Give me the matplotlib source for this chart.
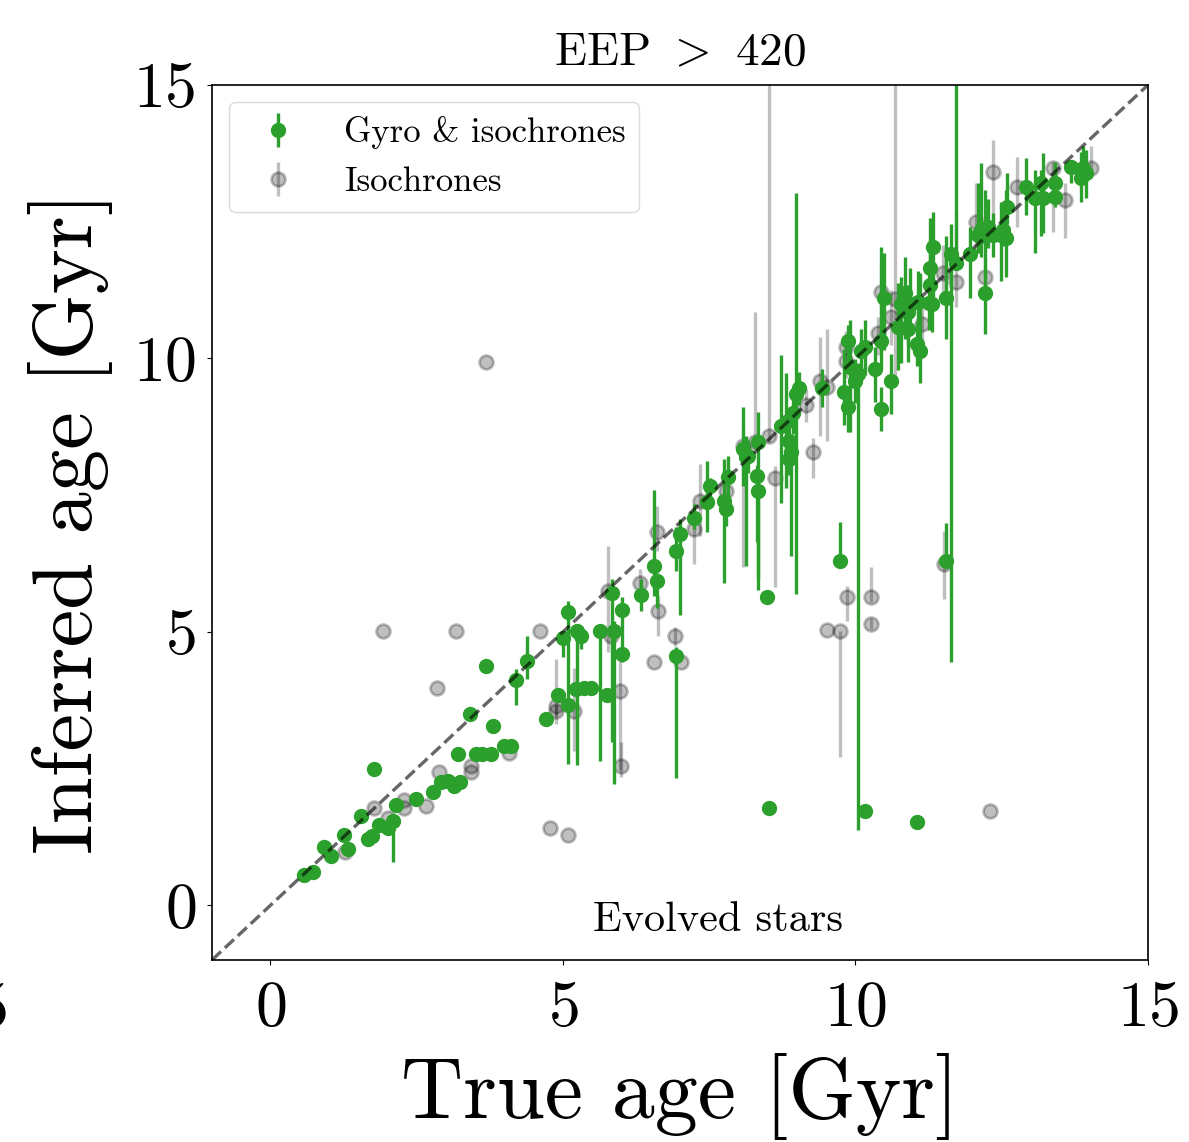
import numpy as np
import matplotlib
matplotlib.use("Agg")
import matplotlib.pyplot as plt

plt.rcParams["font.family"] = "serif"
plt.rcParams["font.serif"] = ["cmr10"]
plt.rcParams["mathtext.fontset"] = "cm"
plt.rcParams["axes.formatter.use_mathtext"] = True

# ---- Gyro & isochrones (green) ----
gyro_true = [0.58, 0.72, 0.92, 1.04, 1.26, 1.33, 1.55, 1.67, 1.74, 1.77, 1.86, 2.01, 2.10, 2.15, 2.49,
             2.78, 2.92, 3.04, 3.14, 3.24, 3.21, 3.41, 3.52, 3.62, 3.77, 3.81, 3.69, 3.99, 4.11, 4.20,
             4.39, 4.71, 4.91, 5.09, 5.00, 5.09, 5.24, 5.31, 5.22, 5.36, 5.48, 5.63, 5.75, 5.84, 5.87,
             6.01, 6.01, 6.33, 6.55, 6.60, 6.93, 7.00, 6.93, 7.24, 7.47, 7.51, 7.75, 7.78, 7.82, 8.07,
             8.12, 8.17, 8.33, 8.31, 8.33, 8.48, 8.52, 8.72, 8.82, 8.86, 8.89, 8.86, 8.94, 8.98, 9.04,
             9.42, 9.73, 9.80, 9.88, 9.88, 9.90, 10.00, 10.05, 10.10, 10.17, 10.34, 10.43, 10.61, 10.17, 11.06,
             11.54, 10.48, 10.44, 10.85, 10.77, 10.94, 11.07, 11.25, 10.90, 10.73, 10.89, 11.06, 11.11, 11.33, 11.28,
             11.28, 11.30, 11.54, 11.64, 11.72, 11.96, 12.22, 12.15, 12.27, 12.10, 12.22, 12.35, 12.49, 12.58, 12.53,
             12.59, 12.92, 13.17, 13.41, 13.07, 13.21, 13.41, 13.69, 13.89, 13.94, 13.86]
gyro_inf = [0.55, 0.60, 1.06, 0.91, 1.28, 1.02, 1.64, 1.22, 1.26, 2.50, 1.46, 1.42, 1.55, 1.84, 1.95,
            2.08, 2.26, 2.28, 2.19, 2.26, 2.77, 3.49, 2.77, 2.76, 2.76, 3.28, 4.38, 2.92, 2.92, 4.12,
            4.47, 3.41, 3.85, 5.36, 4.89, 3.67, 5.02, 4.93, 3.96, 3.98, 3.98, 5.02, 3.85, 5.71, 5.02,
            5.40, 4.60, 5.67, 6.20, 5.93, 6.48, 6.79, 4.56, 7.08, 7.37, 7.66, 7.39, 7.24, 7.83, 8.34,
            8.19, 8.21, 8.47, 7.85, 7.57, 5.64, 1.77, 8.76, 8.83, 8.49, 8.28, 8.16, 9.01, 9.34, 9.45,
            9.45, 6.30, 9.38, 9.12, 10.31, 9.84, 9.58, 9.71, 10.13, 10.20, 9.80, 9.07, 9.58, 1.73, 1.53,
            6.30, 11.11, 10.31, 11.20, 10.99, 10.99, 11.04, 11.02, 10.84, 10.58, 10.53, 10.26, 10.13, 12.04, 11.66,
            11.35, 10.99, 11.11, 11.90, 11.75, 11.90, 11.20, 12.35, 12.41, 12.26, 12.23, 12.26, 12.26, 12.21, 12.35,
            12.76, 13.14, 13.21, 13.21, 12.94, 12.94, 12.96, 13.50, 13.49, 13.39, 13.30]
gyro_lo = [0.0, 0.0, 0.0, 0.0, 0.0, 0.0, 0.0, 0.0, 0.0, 0.0, 0.0, 0.0, 0.75, 0.0, 0.0,
           0.0, 0.0, 0.0, 0.0, 0.0, 0.10, 0.0, 0.0, 0.0, 0.0, 0.0, 0.0, 0.0, 0.0, 0.46,
           0.33, 0.0, 0.0, 2.78, 0.35, 0.0, 2.45, 0.25, 0.0, 0.0, 0.0, 2.39, 0.0, 2.72, 2.80,
           0.95, 0.0, 0.29, 0.54, 0.50, 0.36, 1.48, 2.23, 0.20, 0.55, 0.20, 1.50, 0.30, 0.50, 0.68,
           1.99, 0.30, 2.70, 1.20, 1.60, 0.0, 0.0, 1.40, 1.20, 0.40, 1.90, 0.30, 0.40, 3.65, 0.30,
           0.33, 0.10, 0.60, 0.47, 0.50, 1.19, 0.40, 8.34, 0.40, 0.50, 0.60, 0.40, 0.60, 0.0, 0.0,
           0.10, 0.95, 0.50, 0.85, 1.08, 0.52, 0.75, 0.50, 0.60, 0.80, 0.60, 0.40, 0.58, 1.11, 0.40,
           0.60, 0.50, 0.76, 7.45, 0.10, 0.79, 0.76, 0.50, 0.40, 0.33, 0.70, 0.40, 0.85, 0.73, 0.30,
           0.30, 0.51, 0.98, 0.30, 1.01, 0.64, 0.20, 0.29, 0.30, 0.45, 0.44]
gyro_hi = [0.0, 0.0, 0.0, 0.0, 0.0, 0.0, 0.0, 0.0, 0.0, 0.0, 0.0, 0.0, 0.10, 0.0, 0.0,
           0.0, 0.0, 0.0, 0.0, 0.0, 0.10, 0.13, 0.0, 0.0, 0.0, 0.0, 0.0, 0.0, 0.0, 0.20,
           0.46, 0.0, 0.0, 0.20, 0.13, 0.0, 0.07, 0.10, 0.0, 0.0, 0.0, 0.0, 0.0, 0.26, 0.18,
           0.24, 0.0, 0.29, 1.40, 0.15, 0.44, 0.27, 0.16, 0.25, 0.75, 0.15, 0.77, 0.20, 0.38, 0.78,
           0.40, 0.30, 0.55, 0.20, 0.20, 0.0, 0.0, 1.30, 0.90, 0.30, 0.20, 0.20, 0.30, 3.69, 0.30,
           0.35, 0.70, 0.80, 0.31, 0.30, 0.87, 0.40, 0.20, 0.40, 0.50, 0.40, 0.40, 0.50, 0.0, 0.0,
           0.69, 0.82, 1.73, 0.66, 0.49, 0.67, 0.55, 0.60, 0.50, 0.80, 0.50, 0.40, 1.44, 0.64, 0.50,
           1.22, 0.50, 1.12, 0.55, 4.00, 0.51, 0.37, 1.23, 0.50, 0.95, 0.85, 0.40, 0.60, 0.87, 0.40,
           0.63, 0.53, 0.24, 0.30, 0.51, 0.82, 0.63, 0.13, 0.40, 0.42, 0.48]

# ---- Isochrones only (grey) ----
iso_true = [3.69, 1.93, 3.17, 2.85, 1.77, 1.28, 2.29, 2.29, 2.66, 2.88, 3.43, 3.43, 2.01, 4.08, 4.61,
            4.78, 5.09, 4.88, 4.88, 5.19, 5.77, 5.82, 5.97, 5.99, 6.31, 6.60, 6.62, 6.55, 6.91, 7.01,
            7.24, 7.35, 7.78, 8.07, 8.52, 8.62, 8.29, 9.16, 9.28, 9.40, 9.51, 9.85, 10.27, 10.27, 9.52,
            9.73, 11.52, 12.30, 9.83, 9.83, 10.44, 10.61, 10.68, 11.13, 11.50, 11.71, 12.06, 12.22, 12.35, 12.76,
            13.38, 13.58, 14.03, 10.38]
iso_inf = [9.93, 5.02, 5.02, 3.98, 1.77, 0.98, 1.92, 1.77, 1.81, 2.43, 2.55, 2.44, 1.59, 2.79, 5.02,
           1.41, 1.28, 3.65, 3.56, 3.56, 5.75, 4.93, 3.92, 2.55, 5.89, 6.82, 5.38, 4.45, 4.93, 4.45,
           6.88, 7.39, 7.57, 8.39, 8.58, 7.81, 8.47, 9.14, 8.28, 9.58, 9.47, 5.64, 5.64, 5.15, 5.04,
           5.02, 6.24, 1.73, 10.20, 9.95, 11.22, 10.75, 11.08, 10.62, 11.57, 11.39, 12.50, 11.48, 13.41, 13.14,
           13.49, 12.90, 13.49, 10.46]
iso_lo = [0.0, 0.0, 0.0, 0.0, 0.0, 0.0, 0.0, 0.0, 0.0, 0.0, 0.0, 0.0, 0.0, 0.0, 0.0,
          0.0, 0.0, 0.33, 0.10, 0.73, 1.11, 0.0, 1.45, 0.21, 0.24, 0.34, 0.45, 0.0, 0.19, 0.0,
          0.64, 0.64, 0.20, 2.20, 0.10, 1.99, 0.10, 0.30, 0.46, 1.00, 0.98, 0.44, 0.10, 0.10, 0.0,
          2.30, 0.64, 0.0, 0.30, 0.30, 1.00, 0.50, 1.47, 0.40, 0.50, 0.45, 0.57, 0.40, 0.99, 0.73,
          1.17, 0.70, 0.20, 0.40]
iso_hi = [0.0, 0.0, 0.0, 0.0, 0.0, 0.0, 0.0, 0.0, 0.0, 0.0, 0.0, 0.0, 0.0, 0.0, 0.0,
          0.0, 0.0, 0.86, 0.10, 0.77, 0.82, 0.0, 0.73, 0.44, 0.26, 0.48, 0.28, 0.0, 0.16, 0.0,
          0.10, 0.68, 0.20, 0.37, 6.60, 0.22, 2.37, 0.30, 0.27, 0.82, 1.06, 0.20, 0.55, 0.10, 0.0,
          0.0, 0.60, 0.0, 0.30, 0.30, 0.50, 0.50, 4.00, 0.30, 0.50, 1.27, 0.71, 0.40, 0.59, 0.55,
          0.10, 0.30, 0.40, 0.30]

fig = plt.figure(figsize=(11.89, 11.42), dpi=100)
ax = fig.add_axes([0.1783, 0.1594, 0.7872, 0.7662])

ax.errorbar(iso_true, iso_inf, yerr=[iso_lo, iso_hi], fmt="o", color="k", alpha=0.25,
            ms=10, mew=2, elinewidth=2.4, capsize=0, label="Isochrones", zorder=1)
ax.errorbar(gyro_true, gyro_inf, yerr=[gyro_lo, gyro_hi], fmt="o", color="C2",
            ms=10, elinewidth=2.4, capsize=0, label="Gyro & isochrones", zorder=2)

xs = np.array([-1, 15])
ax.plot(xs, xs, "k--", alpha=0.6, lw=2.4, zorder=3)

ax.set_xlim(-1, 15)
ax.set_ylim(-1, 15)
ax.set_xticks([0, 5, 10, 15])
ax.set_yticks([0, 5, 10, 15])
ax.tick_params(labelsize=46)
ax.tick_params(axis="x", pad=12)
ax.tick_params(axis="y", pad=8)
for s in ax.spines.values():
    s.set_linewidth(1.2)

ax.set_xlabel("True age [Gyr]", fontsize=62, labelpad=10)
ax.set_ylabel("Inferred age [Gyr]", fontsize=61, labelpad=14)
ax.set_title(r"EEP $>$ 420", fontsize=34, pad=14)
ax.text(7.65, -0.28, "Evolved stars", fontsize=30.5, ha="center", va="center")

h, l = ax.get_legend_handles_labels()
ax.legend(h[::-1], l[::-1], loc="upper left", fontsize=25, handletextpad=0.9,
          edgecolor="lightgray", framealpha=0.8)

# tick label of the neighbouring panel, cut at the left edge
fig.text(0.007, 0.140, "5", fontsize=46, ha="right", va="top")

fig.savefig("out.png", dpi=100)
